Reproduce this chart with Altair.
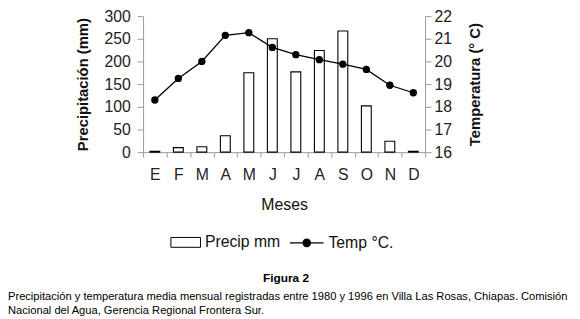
import altair as alt
import pandas as pd

meses = ["Ene", "Feb", "Mar", "Abr", "May", "Jun", "Jul", "Ago", "Sep", "Oct", "Nov", "Dic"]
precip = [2, 10, 12, 36, 175, 250, 177, 224, 267, 102, 24, 2]
temp = [18.3, 19.25, 20.0, 21.15, 21.27, 20.62, 20.3, 20.08, 19.88, 19.65, 18.95, 18.62]
left_ticks = [0, 50, 100, 150, 200, 250, 300]
right_ticks = [16, 17, 18, 19, 20, 21, 22]
series = ["Precip mm", "Temp °C."]
figura = ["Figura 2"]
caption = [
    "Precipitación y temperatura media mensual registradas entre 1980 y 1996 en Villa Las Rosas, Chiapas. Comisión",
    "Nacional del Agua, Gerencia Regional Frontera Sur.",
]

FONT = "Liberation Sans"
W, H = 286, 138
PAD_L, PAD_T = 137, 6

df = pd.DataFrame({"mes": meses, "precip": precip, "temp": temp,
                   "s_p": [series[0]] * 12, "s_t": [series[1]] * 12})

xenc = alt.X(
    "mes:N",
    sort=meses,
    scale=alt.Scale(paddingInner=0, paddingOuter=0),
    axis=alt.Axis(
        title="Meses",
        labelExpr="slice(datum.label, 0, 1)",
        labelAngle=0,
        tickBand="extent",
        tickSize=5,
        labelPadding=10,
        labelBaseline="top",
        titleFontWeight="normal",
        titleFontSize=16,
        titleBaseline="alphabetic",
        titleY=58.5,
        titleX=W / 2,
    ),
)

bars = (
    alt.Chart(df)
    .mark_bar(size=10, stroke="black", strokeWidth=1.1)
    .encode(
        x=xenc,
        y=alt.Y(
            "precip:Q",
            scale=alt.Scale(domain=[0, 300], nice=False),
            axis=alt.Axis(
                title="Precipitación (mm)",
                values=left_ticks,
                tickSize=6,
                labelPadding=7,
                titleAngle=270,
                titleBaseline="alphabetic",
                titleX=-56,
                titleY=H / 2,
            ),
        ),
        fill=alt.Fill(
            "s_p:N",
            scale=alt.Scale(domain=[series[0]], range=["white"]),
            legend=alt.Legend(
                title=None,
                orient="none",
                legendX=27.7,
                legendY=214,
                padding=0,
                symbolType="M-1,-0.333H1V0.333H-1Z",
                symbolSize=900,
                symbolStrokeColor="black",
                symbolStrokeWidth=1,
                labelFont=FONT,
                labelFontSize=16,
                labelColor="#111",
                labelOffset=4,
            ),
        ),
    )
)

yt = alt.Y(
    "temp:Q",
    scale=alt.Scale(domain=[16, 22], nice=False, zero=False),
    axis=alt.Axis(
        title="Temperatura (° C)",
        orient="right",
        values=right_ticks,
        tickSize=6,
        labelPadding=3,
        titleAngle=270,
        titleBaseline="alphabetic",
        titleX=55,
        titleY=H / 2,
    ),
)

line = (
    alt.Chart(df)
    .mark_line(strokeWidth=1.3)
    .encode(
        x=xenc,
        y=yt,
        stroke=alt.Stroke(
            "s_t:N",
            scale=alt.Scale(domain=[series[1]], range=["black"]),
            legend=alt.Legend(
                title=None,
                orient="none",
                legendX=148,
                legendY=212,
                padding=0,
                symbolType="M-1,0H1M-0.22,0A0.22,0.22 0 1,0 0.22,0A0.22,0.22 0 1,0 -0.22,0Z",
                symbolSize=1156,
                symbolFillColor="black",
                symbolStrokeColor="black",
                symbolStrokeWidth=1.3,
                labelFont=FONT,
                labelFontSize=16,
                labelColor="#111",
                labelOffset=4,
            ),
        ),
    )
)

points = (
    alt.Chart(df)
    .mark_circle(size=55, color="black", opacity=1)
    .encode(x=xenc, y=yt)
)

temp_layer = alt.layer(line, points)

fig_text = (
    alt.Chart(pd.DataFrame({"t": figura}))
    .mark_text(font=FONT, fontSize=12, fontWeight="bold", align="center", baseline="middle", color="black")
    .encode(x=alt.value(145), y=alt.value(266), text="t:N")
)

cap_df = pd.DataFrame({"t": ["\n".join(caption)]})
cap_text = (
    alt.Chart(cap_df)
    .mark_text(font=FONT, fontSize=11.3, align="left", baseline="middle",
               color="black", lineBreak="\n", lineHeight=14)
    .encode(x=alt.value(-PAD_L), y=alt.value(285), text="t:N")
)

chart = (
    alt.layer(bars, temp_layer, fig_text, cap_text)
    .resolve_scale(y="independent")
    .properties(
        width=W,
        height=H,
        autosize=alt.AutoSizeParams(type="none"),
        padding={"left": PAD_L, "top": PAD_T, "right": 572 - PAD_L - W, "bottom": 311 - PAD_T - H},
    )
    .configure_view(strokeWidth=0)
    .configure_axis(
        grid=False,
        domainColor="#9a9a9a",
        tickColor="#9a9a9a",
        labelColor="#222",
        labelFont=FONT,
        labelFontSize=16,
        titleFont=FONT,
        titleFontSize=15,
        titleFontWeight="bold",
        titleColor="#111",
    )
)

chart.save("out.html", embed_options={"renderer": "svg", "actions": False})
